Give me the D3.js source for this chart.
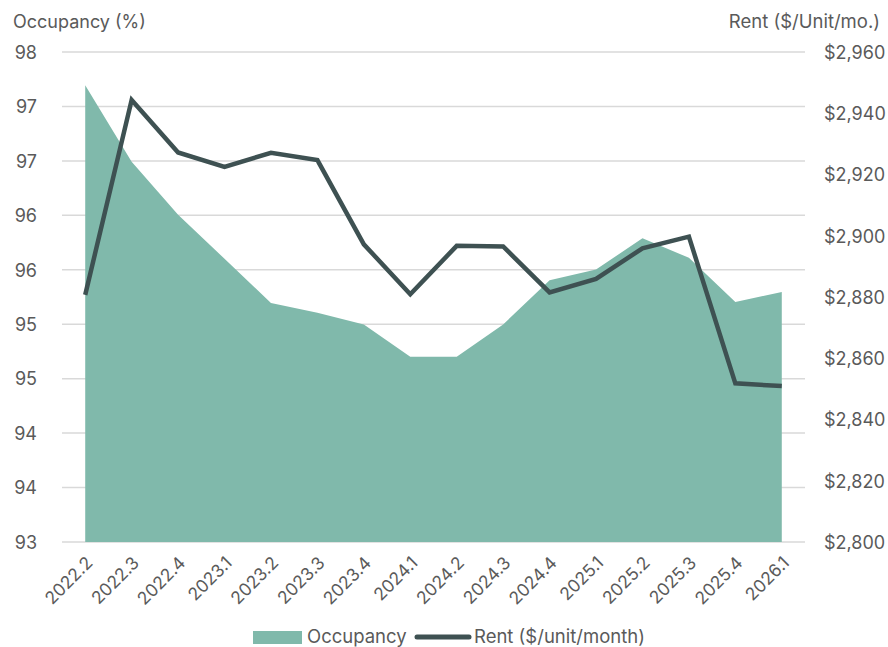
<!DOCTYPE html>
<html><head><meta charset="utf-8">
<script src="https://cdn.jsdelivr.net/npm/d3@7"></script>
<style>body{margin:0;background:#fff}svg{display:block}text{font-family:Inter,"Noto Sans",sans-serif;fill:#5a5a5a}</style>
</head><body><svg id="c" width="888" height="647"></svg>
<script>
const categories = ["2022.2","2022.3","2022.4","2023.1","2023.2","2023.3","2023.4","2024.1","2024.2","2024.3","2024.4","2025.1","2025.2","2025.3","2025.4","2026.1"];
const occupancy = [97.66,96.88,96.34,95.89,95.44,95.34,95.22,94.89,94.89,95.22,95.67,95.78,96.10,95.90,95.45,95.55];
const rent = [2880.7,2944.3,2927.2,2922.5,2927.1,2924.7,2897.2,2880.9,2896.7,2896.5,2881.5,2885.9,2895.9,2899.7,2851.8,2850.9];
const leftTicks = d3.range(10).map(i => 93 + i * 5 / 9);
const rightTicks = [2800,2820,2840,2860,2880,2900,2920,2940,2960];

const svg = d3.select("#c");
const L = 62, R = 805, T = 52, B = 542;
const x = d3.scalePoint().domain(categories).range([L, R]).padding(0.5);
const yL = d3.scaleLinear().domain([93, 98]).range([B, T]);
const yR = d3.scaleLinear().domain([2800, 2960]).range([B, T]);

// gridlines
svg.append("g").selectAll("line").data(leftTicks).join("line")
  .attr("x1", L).attr("x2", R).attr("y1", d => yL(d)).attr("y2", d => yL(d))
  .attr("stroke", "#d9d9d9").attr("stroke-width", 1.5);

// area
svg.append("path").datum(occupancy)
  .attr("fill", "#80b9ab")
  .attr("d", d3.area().x((d, i) => x(categories[i])).y0(yL(93)).y1(d => yL(d)));

// line
svg.append("path").datum(rent)
  .attr("fill", "none").attr("stroke", "#3e5152").attr("stroke-width", 4.5)
  .attr("stroke-linejoin", "miter")
  .attr("d", d3.line().x((d, i) => x(categories[i])).y(d => yR(d)));

// left axis
const gl = svg.append("g").attr("transform", `translate(${L - 25},0)`)
  .call(d3.axisLeft(yL).tickValues(leftTicks).tickFormat(d3.format(".0f")).tickSize(0).tickPadding(0));
gl.select(".domain").remove();
gl.selectAll("text").style("font-size", "18px").attr("fill", "#5a5a5a").attr("dy", "0.35em");

// right axis
const gr = svg.append("g").attr("transform", `translate(${R + 19},0)`)
  .call(d3.axisRight(yR).tickValues(rightTicks).tickFormat(d => "$" + d3.format(",")(d)).tickSize(0).tickPadding(0));
gr.select(".domain").remove();
gr.selectAll("text").style("font-size", "18px").attr("fill", "#5a5a5a").attr("dy", "0.35em");

// x axis
const gx = svg.append("g").attr("transform", `translate(0,${B})`)
  .call(d3.axisBottom(x).tickSize(0).tickPadding(0));
gx.select(".domain").remove();
gx.selectAll("text").style("font-size", "17.5px").attr("fill", "#5a5a5a")
  .attr("text-anchor", "end").attr("dy", "0")
  .attr("transform", "translate(8,22) rotate(-45)");

// titles
svg.append("text").attr("x", 13).attr("y", 28).style("font-size", "18px").text("Occupancy (%)");
svg.append("text").attr("x", 880).attr("y", 28).attr("text-anchor", "end").style("font-size", "18.5px").text("Rent ($/Unit/mo.)");

// legend
svg.append("rect").attr("x", 253).attr("y", 631).attr("width", 49).attr("height", 13).attr("fill", "#80b9ab");
svg.append("text").attr("x", 307).attr("y", 643).style("font-size", "18.5px").text("Occupancy");
svg.append("line").attr("x1", 417).attr("x2", 469).attr("y1", 637).attr("y2", 637)
  .attr("stroke", "#3e5152").attr("stroke-width", 5).attr("stroke-linecap", "round");
svg.append("text").attr("x", 474).attr("y", 643).style("font-size", "18.5px").text("Rent ($/unit/month)");
</script></body></html>
